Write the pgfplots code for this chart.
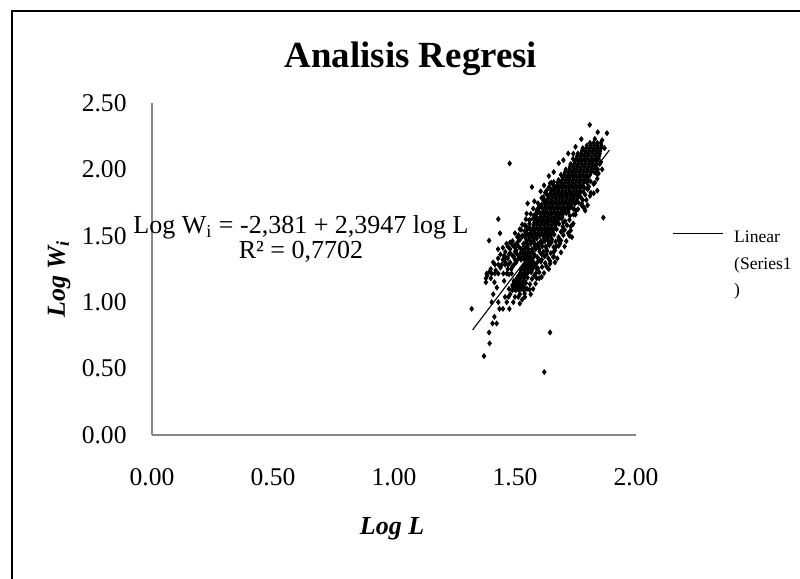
\documentclass[border=0pt]{standalone}
\usepackage{fontspec}
\setmainfont{Liberation Serif}
\usepackage{pgfplots}
\pgfplotsset{compat=1.18}
\definecolor{axgray}{RGB}{134,134,134}
\begin{document}
\begin{tikzpicture}[x=1pt,y=1pt]
\useasboundingbox (0,0) rectangle (360,-260.55);
\draw[line width=0.9pt] (5.4,-265) -- (5.4,-4.95) -- (365,-4.95);
\begin{axis}[
  at={(68.4pt,-195.75pt)}, anchor=south west,
  scale only axis, width=217.8pt, height=149.4pt,
  xmin=0, xmax=2, ymin=0, ymax=2.5,
  xtick={0,0.5,1,1.5,2}, ytick={0,0.5,1,1.5,2,2.5},
  axis x line*=bottom, axis y line*=left,
  axis line style={axgray, line width=0.6pt},
  major tick length=0pt,
  clip=false,
  /pgf/number format/.cd, fixed, fixed zerofill, precision=2, assume math mode=true,
  /pgfplots/.cd,
  ticklabel style={font=\fontsize{11.5}{13}\selectfont},
  yticklabel style={anchor=east, inner sep=0pt, xshift=-11.25pt},
  xticklabel style={anchor=base, inner sep=0pt, yshift=-22.5pt},
  title={Analisis Regresi},
  title style={at={(axis description cs:0.535,1.067)}, anchor=base, inner sep=0pt, font=\fontsize{16.6}{20}\selectfont\bfseries},
  xlabel={Log L},
  xlabel style={at={(axis description cs:0.496,-0.301)}, anchor=base, inner sep=0pt, font=\fontsize{11.7}{14}\selectfont\bfseries\itshape},
  ylabel={Log W\textsubscript{i}},
  ylabel style={at={(axis description cs:-0.18,0.47)}, anchor=base, inner sep=0pt, font=\fontsize{11.7}{14}\selectfont\bfseries\itshape},
  legend style={at={(axis description cs:1.0744,0.651)}, anchor=north west, draw=none, fill=none, inner sep=0pt, column sep=2.8pt, font=\fontsize{7.9}{12}\selectfont, cells={anchor=base west, inner sep=0pt}},
]
\addplot[only marks, mark=diamond*, mark size=1.05pt, black, forget plot] coordinates {
(1.81,2.20) (1.825,2.20) (1.84,2.20) (1.855,2.20)
(1.797,2.18) (1.812,2.18) (1.827,2.18) (1.842,2.18) (1.857,2.18)
(1.78,2.16) (1.795,2.16) (1.81,2.16) (1.825,2.16) (1.84,2.16) (1.855,2.16) (1.87,2.16)
(1.777,2.14) (1.792,2.14) (1.807,2.14) (1.822,2.14) (1.837,2.14) (1.852,2.14)
(1.76,2.12) (1.775,2.12) (1.79,2.12) (1.805,2.12) (1.82,2.12) (1.835,2.12) (1.85,2.12)
(1.757,2.10) (1.772,2.10) (1.787,2.10) (1.802,2.10) (1.817,2.10) (1.832,2.10) (1.847,2.10)
(1.74,2.08) (1.755,2.08) (1.77,2.08) (1.785,2.08) (1.80,2.08) (1.815,2.08) (1.83,2.08) (1.845,2.08)
(1.747,2.06) (1.762,2.06) (1.777,2.06) (1.792,2.06) (1.807,2.06) (1.822,2.06) (1.837,2.06)
(1.73,2.04) (1.745,2.04) (1.76,2.04) (1.775,2.04) (1.79,2.04) (1.805,2.04) (1.82,2.04) (1.835,2.04)
(1.727,2.02) (1.742,2.02) (1.757,2.02) (1.772,2.02) (1.787,2.02) (1.802,2.02) (1.817,2.02) (1.832,2.02)
(1.71,2.00) (1.725,2.00) (1.74,2.00) (1.755,2.00) (1.77,2.00) (1.785,2.00) (1.80,2.00) (1.815,2.00) (1.83,2.00)
(1.707,1.98) (1.722,1.98) (1.737,1.98) (1.752,1.98) (1.767,1.98) (1.782,1.98) (1.797,1.98) (1.812,1.98) (1.827,1.98)
(1.69,1.96) (1.705,1.96) (1.72,1.96) (1.735,1.96) (1.75,1.96) (1.765,1.96) (1.78,1.96) (1.795,1.96) (1.81,1.96)
(1.697,1.94) (1.712,1.94) (1.727,1.94) (1.742,1.94) (1.757,1.94) (1.772,1.94) (1.787,1.94) (1.802,1.94)
(1.68,1.92) (1.695,1.92) (1.71,1.92) (1.725,1.92) (1.74,1.92) (1.755,1.92) (1.77,1.92) (1.785,1.92) (1.80,1.92)
(1.677,1.90) (1.692,1.90) (1.707,1.90) (1.722,1.90) (1.737,1.90) (1.752,1.90) (1.767,1.90) (1.782,1.90) (1.797,1.90)
(1.66,1.88) (1.675,1.88) (1.69,1.88) (1.705,1.88) (1.72,1.88) (1.735,1.88) (1.75,1.88) (1.765,1.88) (1.78,1.88)
(1.667,1.86) (1.682,1.86) (1.697,1.86) (1.712,1.86) (1.727,1.86) (1.742,1.86) (1.757,1.86) (1.772,1.86) (1.787,1.86)
(1.65,1.84) (1.665,1.84) (1.68,1.84) (1.695,1.84) (1.71,1.84) (1.725,1.84) (1.74,1.84) (1.755,1.84) (1.77,1.84)
(1.647,1.82) (1.662,1.82) (1.677,1.82) (1.692,1.82) (1.707,1.82) (1.722,1.82) (1.737,1.82) (1.752,1.82) (1.767,1.82)
(1.64,1.80) (1.655,1.80) (1.67,1.80) (1.685,1.80) (1.70,1.80) (1.715,1.80) (1.73,1.80) (1.745,1.80) (1.76,1.80)
(1.637,1.78) (1.652,1.78) (1.667,1.78) (1.682,1.78) (1.697,1.78) (1.712,1.78) (1.727,1.78) (1.742,1.78) (1.757,1.78)
(1.62,1.76) (1.635,1.76) (1.65,1.76) (1.665,1.76) (1.68,1.76) (1.695,1.76) (1.71,1.76) (1.725,1.76) (1.74,1.76) (1.755,1.76)
(1.627,1.74) (1.642,1.74) (1.657,1.74) (1.672,1.74) (1.687,1.74) (1.702,1.74) (1.717,1.74) (1.732,1.74) (1.747,1.74)
(1.61,1.72) (1.625,1.72) (1.64,1.72) (1.655,1.72) (1.67,1.72) (1.685,1.72) (1.70,1.72) (1.715,1.72) (1.73,1.72)
(1.617,1.70) (1.632,1.70) (1.647,1.70) (1.662,1.70) (1.677,1.70) (1.692,1.70) (1.707,1.70) (1.722,1.70)
(1.60,1.68) (1.615,1.68) (1.63,1.68) (1.645,1.68) (1.66,1.68) (1.675,1.68) (1.69,1.68) (1.705,1.68) (1.72,1.68)
(1.607,1.66) (1.622,1.66) (1.637,1.66) (1.652,1.66) (1.667,1.66) (1.682,1.66) (1.697,1.66)
(1.59,1.64) (1.605,1.64) (1.62,1.64) (1.635,1.64) (1.65,1.64) (1.665,1.64) (1.68,1.64) (1.695,1.64)
(1.587,1.62) (1.602,1.62) (1.617,1.62) (1.632,1.62) (1.647,1.62) (1.662,1.62) (1.677,1.62)
(1.58,1.60) (1.595,1.60) (1.61,1.60) (1.625,1.60) (1.64,1.60) (1.655,1.60) (1.67,1.60)
(1.577,1.58) (1.592,1.58) (1.607,1.58) (1.622,1.58) (1.637,1.58) (1.652,1.58) (1.667,1.58)
(1.56,1.56) (1.575,1.56) (1.59,1.56) (1.605,1.56) (1.62,1.56) (1.635,1.56) (1.65,1.56) (1.665,1.56)
(1.567,1.54) (1.582,1.54) (1.597,1.54) (1.612,1.54) (1.627,1.54) (1.642,1.54) (1.657,1.54)
(1.55,1.52) (1.565,1.52) (1.58,1.52) (1.595,1.52) (1.61,1.52) (1.625,1.52) (1.64,1.52) (1.655,1.52)
(1.557,1.50) (1.572,1.50) (1.587,1.50) (1.602,1.50) (1.617,1.50) (1.632,1.50) (1.647,1.50)
(1.545,1.48) (1.56,1.48) (1.575,1.48) (1.59,1.48) (1.62,1.48) (1.635,1.48) (1.65,1.48)
(1.547,1.46) (1.562,1.46) (1.577,1.46) (1.607,1.46) (1.622,1.46) (1.637,1.46)
(1.535,1.44) (1.55,1.44) (1.565,1.44) (1.58,1.44) (1.595,1.44) (1.61,1.44) (1.64,1.44)
(1.537,1.42) (1.552,1.42) (1.582,1.42) (1.597,1.42) (1.612,1.42) (1.627,1.42)
(1.525,1.40) (1.54,1.40) (1.555,1.40) (1.57,1.40) (1.585,1.40) (1.60,1.40) (1.63,1.40)
(1.527,1.38) (1.542,1.38) (1.557,1.38) (1.572,1.38) (1.602,1.38) (1.617,1.38)
(1.52,1.36) (1.535,1.36) (1.55,1.36) (1.565,1.36) (1.58,1.36) (1.61,1.36)
(1.517,1.34) (1.532,1.34) (1.547,1.34) (1.562,1.34) (1.577,1.34) (1.592,1.34)
(1.51,1.32) (1.525,1.32) (1.54,1.32) (1.555,1.32) (1.57,1.32) (1.60,1.32)
(1.547,1.30) (1.562,1.30) (1.577,1.30) (1.592,1.30)
(1.54,1.28) (1.555,1.28) (1.57,1.28) (1.585,1.28)
(1.532,1.26) (1.547,1.26) (1.562,1.26)
(1.525,1.24) (1.54,1.24) (1.555,1.24) (1.57,1.24)
(1.522,1.22) (1.537,1.22) (1.552,1.22)
(1.515,1.20) (1.53,1.20) (1.545,1.20)
(1.507,1.18) (1.522,1.18) (1.537,1.18)
(1.495,1.16) (1.51,1.16) (1.525,1.16) (1.54,1.16)
(1.50,1.14) (1.515,1.14) (1.53,1.14)
(1.49,1.12) (1.505,1.12) (1.52,1.12) (1.535,1.12)
(1.497,1.10) (1.512,1.10) (1.527,1.10)
(1.842,2.00) (1.845,1.97) (1.812,1.91) (1.825,1.89) (1.80,1.85) (1.805,1.87) (1.782,1.83) (1.79,1.81) (1.772,1.79) (1.78,1.77)
(1.762,1.75) (1.775,1.73) (1.737,1.71) (1.752,1.69) (1.745,1.70) (1.712,1.67) (1.727,1.65) (1.742,1.66)
(1.692,1.63) (1.707,1.61) (1.725,1.62) (1.682,1.59) (1.697,1.57) (1.715,1.58) (1.738,1.585)
(1.672,1.55) (1.69,1.53) (1.705,1.545) (1.73,1.54) (1.662,1.51) (1.68,1.49) (1.70,1.505) (1.735,1.49)
(1.652,1.47) (1.668,1.455) (1.69,1.465) (1.712,1.46) (1.642,1.43) (1.66,1.415) (1.68,1.425) (1.705,1.42)
(1.632,1.385) (1.648,1.37) (1.665,1.39) (1.69,1.375) (1.622,1.345) (1.638,1.33) (1.66,1.345) (1.675,1.33)
(1.607,1.305) (1.625,1.295) (1.645,1.31) (1.665,1.30) (1.577,1.265) (1.595,1.255) (1.612,1.265) (1.635,1.26)
(1.567,1.225) (1.585,1.215) (1.60,1.225) (1.552,1.185) (1.57,1.175) (1.59,1.18) (1.61,1.19)
(1.545,1.145) (1.562,1.135) (1.585,1.14) (1.542,1.105) (1.56,1.095) (1.575,1.10) (1.52,1.06) (1.54,1.065) (1.565,1.06)
(1.645,1.895) (1.66,1.905) (1.64,1.865) (1.652,1.85) (1.625,1.825) (1.632,1.81) (1.61,1.785) (1.622,1.77)
(1.595,1.745) (1.61,1.735) (1.575,1.705) (1.59,1.695) (1.60,1.71) (1.565,1.665) (1.58,1.655) (1.592,1.67)
(1.545,1.625) (1.56,1.615) (1.575,1.63) (1.53,1.585) (1.545,1.575) (1.56,1.59) (1.525,1.545) (1.54,1.535) (1.552,1.55)
(1.515,1.505) (1.53,1.495) (1.542,1.51)
(1.50,1.43) (1.515,1.42) (1.505,1.39) (1.51,1.36) (1.495,1.345) (1.505,1.30) (1.495,1.28) (1.485,1.25) (1.475,1.21)
(1.455,1.16) (1.475,1.10) (1.425,1.11) (1.41,1.06) (1.415,1.15) (1.395,1.23) (1.41,1.30)
(1.43,1.33) (1.455,1.35) (1.475,1.36) (1.465,1.44) (1.48,1.45)
(1.43,1.40) (1.45,1.41) (1.46,1.38) (1.47,1.42) (1.48,1.40) (1.49,1.43) (1.50,1.41) (1.48,1.37) (1.44,1.36) (1.46,1.34) (1.50,1.38)
(1.51,1.45) (1.49,1.46) (1.52,1.47) (1.53,1.50) (1.51,1.49) (1.45,1.32) (1.47,1.33) (1.49,1.35) (1.50,1.32) (1.48,1.30) (1.46,1.30)
(1.417,1.283) (1.431,1.283) (1.445,1.283) (1.459,1.283) (1.473,1.283)
(1.383,1.216) (1.404,1.216) (1.417,1.216) (1.431,1.216) (1.452,1.216) (1.466,1.216) (1.486,1.216)
(1.38,1.18) (1.38,1.15) (1.385,1.20) (1.40,1.25) (1.42,1.24) (1.44,1.26) (1.40,1.18) (1.47,1.25) (1.49,1.27)
(1.489,1.09) (1.503,1.09) (1.517,1.09) (1.537,1.09) (1.55,1.10)
(1.459,1.04) (1.473,1.04) (1.50,1.04) (1.514,1.04) (1.541,1.04)
(1.404,1.00) (1.431,1.00) (1.466,1.00) (1.493,1.00)
(1.321,0.95) (1.436,0.95) (1.45,0.95) (1.477,0.95)
(1.415,0.89) (1.407,0.84) (1.424,0.84)
(1.393,0.772) (1.645,0.772) (1.395,0.69) (1.372,0.594) (1.621,0.474)
(1.49,1.13) (1.48,1.06) (1.52,0.99) (1.53,1.02)
(1.865,1.637) (1.79,1.69) (1.80,1.73) (1.795,1.77) (1.81,1.80) (1.825,1.82) (1.84,1.84) (1.837,1.968) (1.85,2.04) (1.855,2.055)
(1.842,1.965) (1.813,1.825) (1.776,1.742) (1.787,1.709) (1.741,1.592) (1.725,1.50) (1.72,1.52) (1.70,1.55) (1.73,1.57) (1.686,1.441)
(1.658,1.34) (1.62,1.22) (1.64,1.25) (1.645,1.29) (1.63,1.27) (1.66,1.38) (1.67,1.42) (1.68,1.47) (1.70,1.60) (1.75,1.66)
(1.76,1.70) (1.78,1.72) (1.80,1.86) (1.83,1.90) (1.84,1.93) (1.86,2.00) (1.61,1.32) (1.63,1.36) (1.65,1.45)
(1.60,1.18) (1.58,1.20) (1.59,1.25)
(1.809,2.336) (1.842,2.28) (1.880,2.273) (1.774,2.228) (1.741,2.118) (1.83,2.23) (1.86,2.22)
(1.478,2.045) (1.681,2.047) (1.57,1.867) (1.606,1.835) (1.617,1.792) (1.552,1.744) (1.431,1.626) (1.438,1.519) (1.393,1.464)
(1.548,1.667) (1.59,1.68) (1.62,1.88) (1.64,1.95) (1.66,1.98) (1.70,2.07) (1.72,2.12) (1.75,2.17) (1.58,1.76) (1.56,1.62)
(1.54,1.58) (1.52,1.55) (1.50,1.52) (1.60,1.72) (1.63,1.84) (1.65,1.90)
};
\addplot[black, line width=0.5pt, legend image code/.code={\draw[black, line width=0.5pt] (0pt,3.9pt) -- (22.5pt,3.9pt);}] coordinates {(1.325,0.792) (1.89,2.145)};
\addlegendentry{\begin{tabular}[t]{@{}l@{}}Linear\\(Series1\\)\end{tabular}}
\node[anchor=base, inner sep=0pt, font=\fontsize{11.7}{11.25}\selectfont] at (axis cs:0.6157,1.5165) {\begin{tabular}[t]{@{}c@{}}Log W\textsubscript{i} = -2,381 + 2,3947 log L\\R² = 0,7702\end{tabular}};
\end{axis}
\end{tikzpicture}
\end{document}
